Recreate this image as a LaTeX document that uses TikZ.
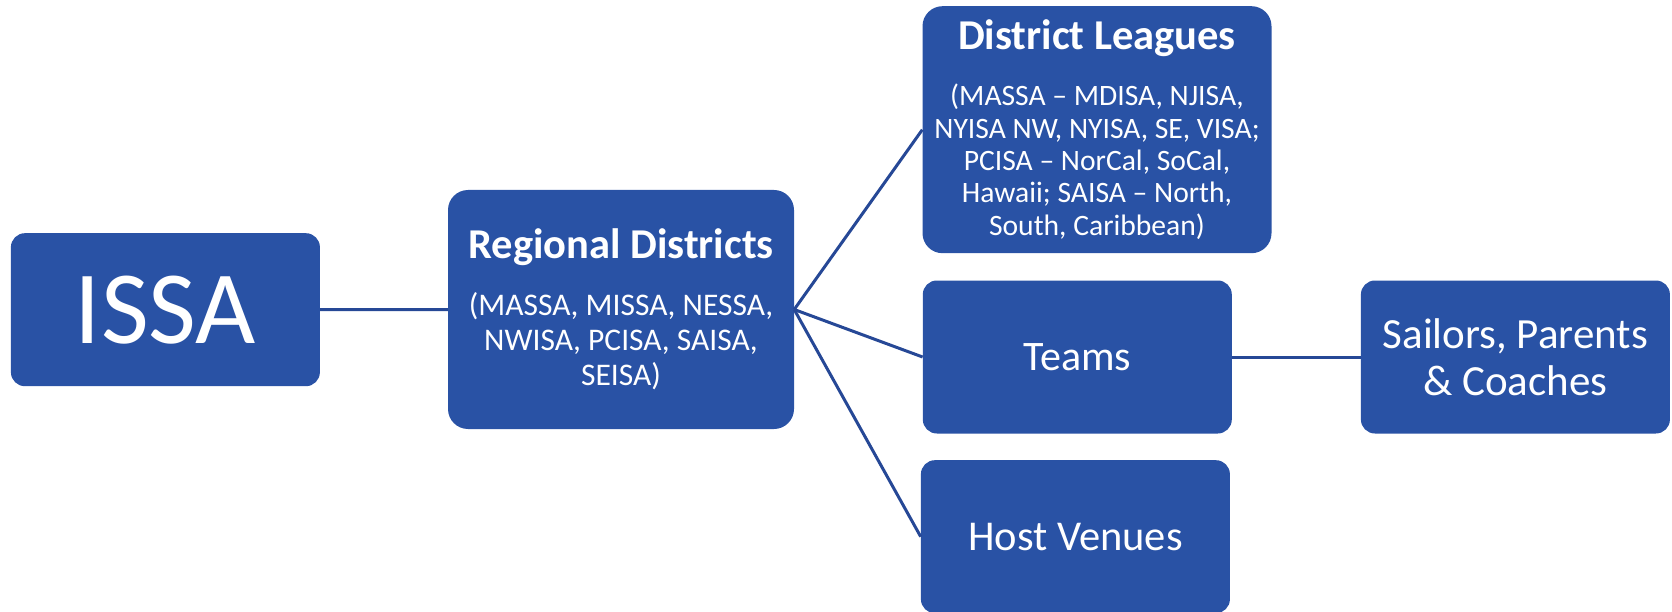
\documentclass[tikz,border=0pt]{standalone}
\usepackage{fontspec}
\setmainfont{Carlito}
\definecolor{issablue}{RGB}{41,82,165}
\definecolor{linkblue}{RGB}{38,72,150}
\begin{document}
\begin{tikzpicture}[
  x=1pt, y=-1pt,
  box/.style = {rectangle, rounded corners=14pt, fill=issablue, text=white, align=center, inner sep=0pt},
  bigbox/.style = {box, rounded corners=20pt},
  link/.style = {draw=linkblue, line width=3pt}
]
  \useasboundingbox (0,0) rectangle (1672,612);
  \node[box, minimum width=309pt, minimum height=153pt, font=\fontsize{104}{104}\selectfont]
    (issa) at (165.4,309.7) {ISSA};
  \node[bigbox, minimum width=346pt, minimum height=239pt, font=\fontsize{31.5}{35}\selectfont]
    (regional) at (621,309.5) {{\fontsize{42.5}{42.5}\selectfont\bfseries Regional Districts}\\[21.7pt]
      (MASSA, MISSA, NESSA,\\ NWISA, PCISA, SAISA,\\ SEISA)};
  \node[bigbox, minimum width=349pt, minimum height=247pt, font=\fontsize{29.6}{32.3}\selectfont]
    (leagues) at (1097,129.7) {{\fontsize{42.5}{42.5}\selectfont\bfseries District Leagues}\\[23.7pt]
      (MASSA -- MDISA, NJISA,\\ NYISA NW, NYISA, SE, VISA;\\ PCISA -- NorCal, SoCal,\\
      Hawaii; SAISA -- North,\\ South, Caribbean)};
  \node[box, minimum width=309pt, minimum height=153pt, font=\fontsize{42}{42}\selectfont]
    (teams) at (1077.3,357) {Teams};
  \node[box, minimum width=309pt, minimum height=153pt, font=\fontsize{42.5}{42.5}\selectfont]
    (venues) at (1075.4,536.7) {Host Venues};
  \node[box, minimum width=309pt, minimum height=153pt, font=\fontsize{43}{47}\selectfont]
    (sailors) at (1515.4,357) {Sailors, Parents\\ \& Coaches};

  \draw[link] (issa.east) -- (regional.west);
  \draw[link] (regional.east) -- (leagues.west);
  \draw[link] (regional.east) -- (teams.west);
  \draw[link] (regional.east) -- (venues.west);
  \draw[link] (teams.east) -- (sailors.west);
\end{tikzpicture}
\end{document}
